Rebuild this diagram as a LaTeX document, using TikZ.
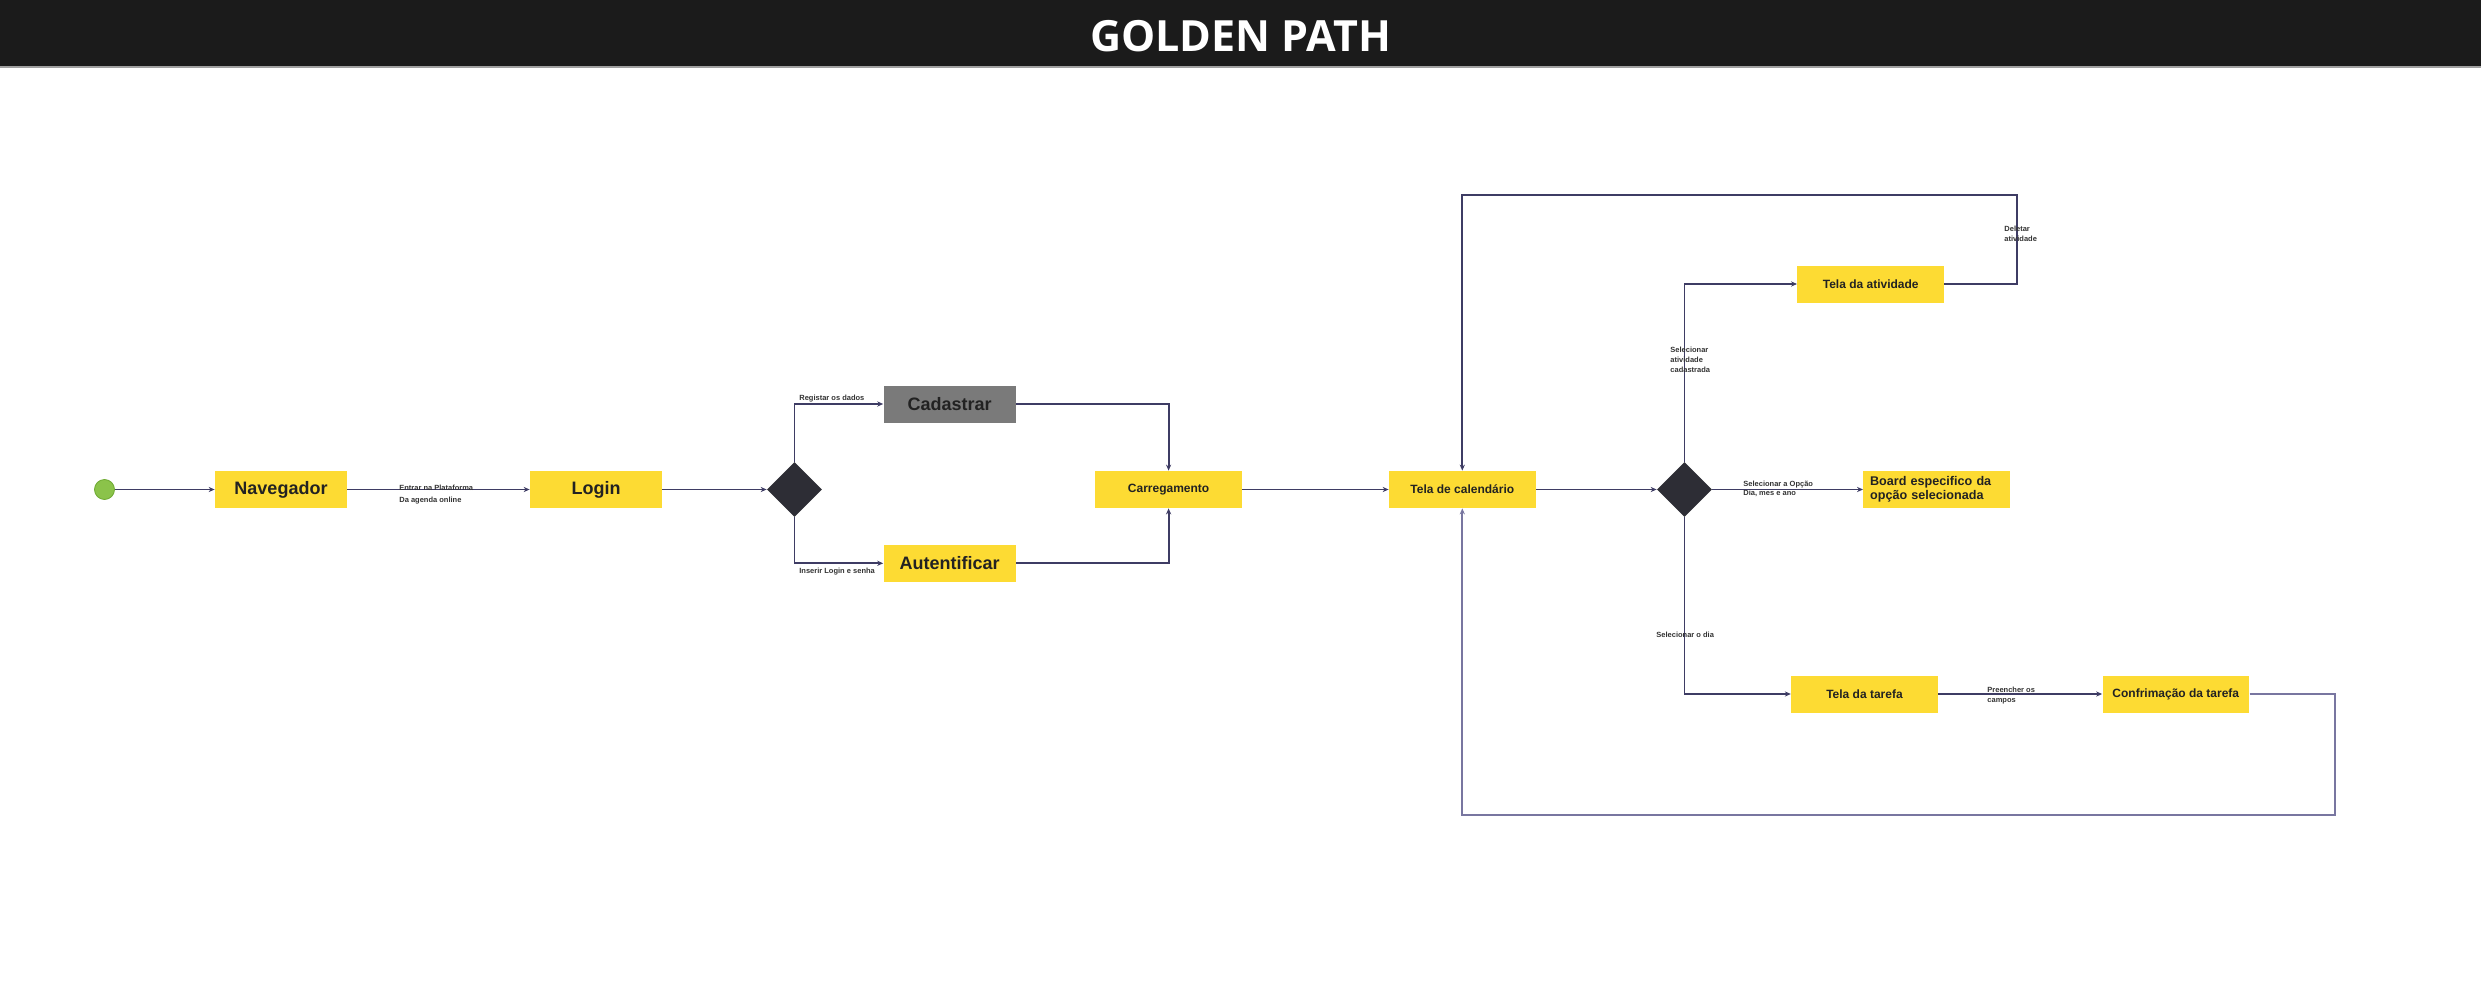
\documentclass[tikz,border=0pt]{standalone}
\usepackage{fontspec}
\setmainfont{Liberation Sans}
\newfontfamily\titlefont{Open Sans}
\usetikzlibrary{arrows.meta,shapes.geometric}

\tikzset{
  stepbox/.style={fill={rgb, 255:red, 253; green, 219; blue, 51 }, inner sep=0pt, minimum width=66pt, minimum height=18.5pt, text={rgb, 255:red, 34; green, 34; blue, 34 }, font=\fontsize{9}{10}\selectfont\bfseries},
  screenbox/.style={stepbox, minimum width=73.3pt, font=\fontsize{6}{7}\selectfont\bfseries},
  greybox/.style={stepbox, fill={rgb, 255:red, 122; green, 122; blue, 122 }},
  choice/.style={diamond, fill={rgb, 255:red, 45; green, 45; blue, 53 }, inner sep=0pt, minimum width=27.5pt, minimum height=27.5pt},
  startdot/.style={circle, fill={rgb, 255:red, 139; green, 195; blue, 74 }, draw={rgb, 255:red, 110; green, 170; blue, 50 }, line width=0.4pt, inner sep=0pt, minimum size=10pt},
  lbl/.style={anchor=base west, inner sep=0pt, align=left, text={rgb, 255:red, 51; green, 51; blue, 51 }, font=\fontsize{3.75}{5}\selectfont\bfseries},
  flow/.style={draw={rgb, 255:red, 62; green, 60; blue, 100 }, line width=0.9pt, -{Stealth[length=3pt,width=2.6pt]}},
  backflow/.style={flow, draw={rgb, 255:red, 120; green, 118; blue, 160 }},
}

\begin{document}
\begin{tikzpicture}[x=0.5pt,y=0.5pt,yscale=-1,xscale=1]
\useasboundingbox (0,0) rectangle (2481,985);

%Shape: Rectangle (header)
\fill [color={rgb, 255:red, 27; green, 27; blue, 27 }] (0,0) rectangle (2481,66) ;
\fill [color={rgb, 255:red, 160; green, 160; blue, 160 }] (0,66) rectangle (2481,67.5) ;
% Text Node
\node (title) at (1240.5,36.5) [inner sep=0pt, text=white, font=\titlefont\bfseries\fontsize{21.5}{24}\selectfont] {GOLDEN PATH};

%Shape: Circle
\node [startdot] (start) at (104.5,489.5) {};
%Shape: Rectangle
\node [stepbox] (nav) at (281,489.5) {Navegador};
\node [stepbox] (login) at (596,489.5) {Login};
%Shape: Diamond
\node [choice] (entry) at (794.5,489.5) {};
%Shape: Rectangle
\node [greybox] (cad) at (949.6,404) {Cadastrar};
\node [stepbox] (aut) at (949.6,563.3) {Autentificar};
\node [screenbox] (carr) at (1168.6,489.5) {Carregamento};
\node [screenbox] (cal) at (1462.3,489.5) {Tela de calend\'ario};
%Shape: Diamond
\node [choice] (pick) at (1684.5,489.5) {};
%Shape: Rectangle
\node [screenbox] (ativ) at (1870.7,284) {Tela da atividade};
\node [screenbox, font=\fontsize{6.3}{7}\selectfont\bfseries, text width=66.6pt, align=left] (board) at (1936.7,489.5) {Board especifico da\\op\c{c}\~ao selecionada};
\node [screenbox] (tarefa) at (1864.5,694) {Tela da tarefa};
\node [screenbox] (conf) at (2175.8,694) {Confrima\c{c}\~ao da tarefa};

\coordinate (loopne) at (2016.7,195) ;
\coordinate (loopse) at (2335,815) ;

%Straight Lines
\draw [flow] (start) -- (nav) ;
\draw [flow] (nav) -- (login) ;
\draw [flow] (login) -- (entry) ;
\draw [flow] (entry.north) |- (cad.west) ;
\draw [flow] (entry.south) |- (aut.west) ;
\draw [flow] (cad.east) -| (carr.north) ;
\draw [flow] (aut.east) -| (carr.south) ;
\draw [flow] (carr) -- (cal) ;
\draw [flow] (cal) -- (pick) ;
\draw [flow] (pick.north) |- (ativ.west) ;
\draw [flow] (pick) -- (board) ;
\draw [flow] (pick.south) |- (tarefa.west) ;
\draw [flow] (tarefa) -- (conf) ;
\draw [flow] (ativ.east) -| (loopne) -| (cal.north) ;
\draw [backflow] (conf.east) -| (loopse) -| (cal.south) ;

% Text Node
\node [lbl, font=\fontsize{3.75}{6}\selectfont\bfseries] (lblentrar) at (399,502) {Entrar na Plataforma\\Da agenda online};
% Text Node
\node [lbl] (lblreg) at (799,400.5) {Registar os dados};
% Text Node
\node [lbl] (lblins) at (799,573) {Inserir Login e senha};
% Text Node
\node [lbl] (lblsel) at (1670,372) {Selecionar\\atividade\\cadastrada};
% Text Node
\node [lbl] (lbldel) at (2004,241.5) {Deletar\\atividade};
% Text Node
\node [lbl, font=\fontsize{3.75}{4.6}\selectfont\bfseries] (lblopcao) at (1743,495.2) {Selecionar a Op\c{c}\~ao\\Dia, mes e ano};
% Text Node
\node [lbl] (lbldia) at (1656,637.5) {Selecionar o dia};
% Text Node
\node [lbl, font=\fontsize{3.75}{4.7}\selectfont\bfseries] (lblcampos) at (1987,702.1) {Preencher os\\campos};
\end{tikzpicture}
\end{document}
